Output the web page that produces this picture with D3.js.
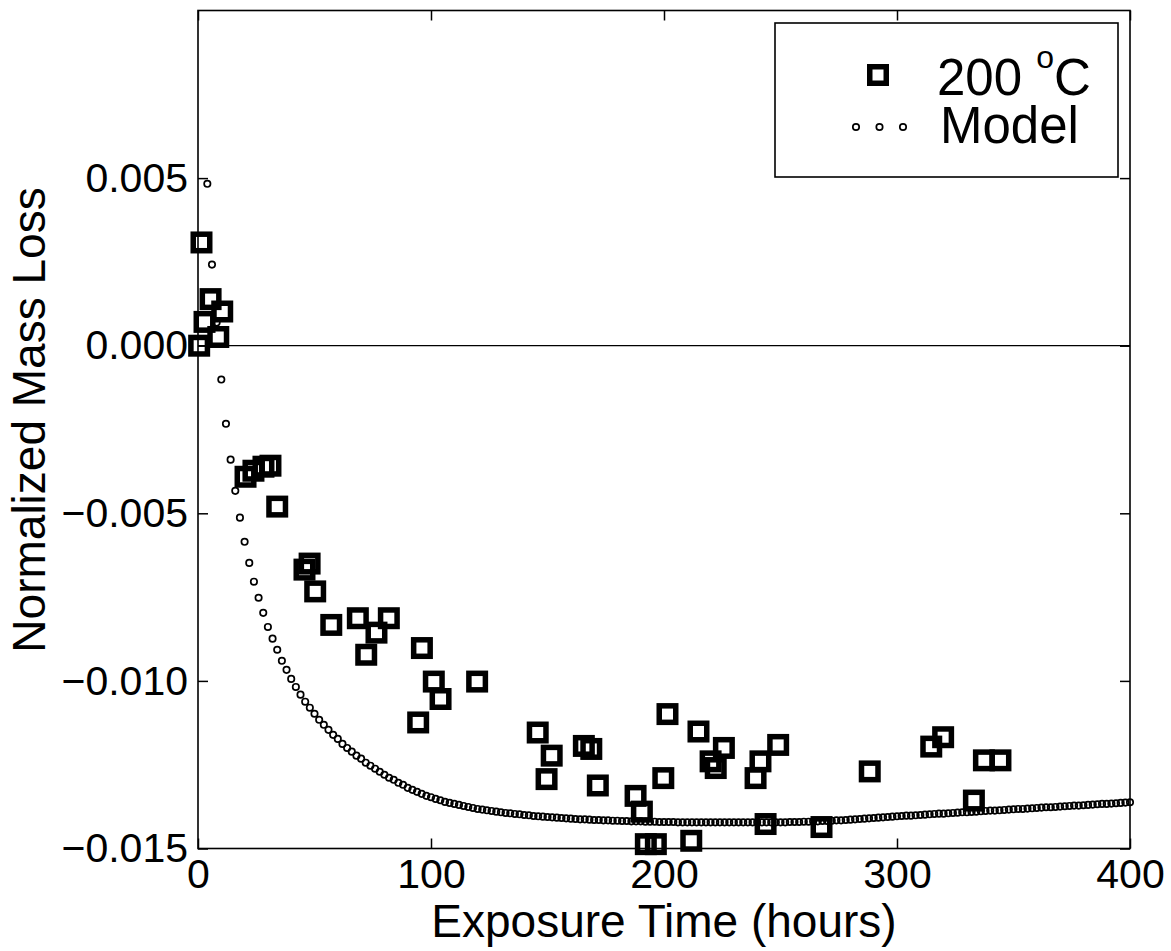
<!DOCTYPE html>
<html>
<head>
<meta charset="utf-8">
<script src="https://cdn.jsdelivr.net/npm/d3@7"></script>
<style>
  body { margin: 0; background: #fff; }
</style>
</head>
<body>
<div id="chart"></div>
<script>
// measured points, 200 C exposure
var hours = [1.5, 0.5, 2.8, 5.4, 8.7, 10.4, 20.4, 23.8, 28.1, 31.1,
  34.0, 45.7, 47.9, 50.3, 57.2, 68.6, 72.2, 76.6, 81.9, 94.5,
  96.1, 101.2, 104.1, 119.8, 145.8, 149.6, 151.8, 165.6, 168.8, 171.6,
  187.8, 190.5, 192.2, 196.5, 199.7, 201.5, 211.7, 214.8, 220.0, 222.2,
  225.7, 239.3, 241.4, 243.6, 249.0, 267.6, 288.3, 314.7, 319.8, 333.0,
  337.3, 344.4];
var massLoss = [0.00308, 0.0000, 0.00071, 0.00139, 0.00026, 0.00102, -0.00391, -0.00373, -0.00361, -0.00358,
  -0.00480, -0.00668, -0.00650, -0.00733, -0.00833, -0.00813, -0.00922, -0.00856, -0.00813, -0.01124,
  -0.00902, -0.01002, -0.01054, -0.01002, -0.01154, -0.01293, -0.01223, -0.01194, -0.01203, -0.01312,
  -0.01343, -0.01390, -0.01487, -0.01487, -0.01290, -0.01099, -0.01477, -0.01151, -0.01240, -0.01260,
  -0.01200, -0.01290, -0.01240, -0.01427, -0.01191, -0.01436, -0.01270, -0.01196, -0.01168, -0.01357,
  -0.01237, -0.01237];

// model curve samples
var modelHours = [4, 6, 8, 10, 12, 14, 16, 18, 20, 22,
  24, 26, 28, 30, 32, 34, 36, 38, 40, 42,
  44, 46, 48, 50, 52, 54, 56, 58, 60, 62,
  64, 66, 68, 70, 72, 74, 76, 78, 80, 82,
  84, 86, 88, 90, 92, 94, 96, 98, 100, 102,
  104, 106, 108, 110, 112, 114, 116, 118, 120, 122,
  124, 126, 128, 130, 132, 134, 136, 138, 140, 142,
  144, 146, 148, 150, 152, 154, 156, 158, 160, 162,
  164, 166, 168, 170, 172, 174, 176, 178, 180, 182,
  184, 186, 188, 190, 192, 194, 196, 198, 200, 202,
  204, 206, 208, 210, 212, 214, 216, 218, 220, 222,
  224, 226, 228, 230, 232, 234, 236, 238, 240, 242,
  244, 246, 248, 250, 252, 254, 256, 258, 260, 262,
  264, 266, 268, 270, 272, 274, 276, 278, 280, 282,
  284, 286, 288, 290, 292, 294, 296, 298, 300, 302,
  304, 306, 308, 310, 312, 314, 316, 318, 320, 322,
  324, 326, 328, 330, 332, 334, 336, 338, 340, 342,
  344, 346, 348, 350, 352, 354, 356, 358, 360, 362,
  364, 366, 368, 370, 372, 374, 376, 378, 380, 382,
  384, 386, 388, 390, 392, 394, 396, 398, 400];
var modelLoss = [0.00483, 0.00242, 0.00069, -0.00101, -0.00233, -0.00340, -0.00433, -0.00513, -0.00585, -0.00648,
  -0.00704, -0.00752, -0.00797, -0.00839, -0.00874, -0.00907, -0.00940, -0.00967, -0.00994, -0.01018,
  -0.01041, -0.01062, -0.01080, -0.01098, -0.01116, -0.01131, -0.01146, -0.01161, -0.01173, -0.01188,
  -0.01200, -0.01211, -0.01223, -0.01232, -0.01244, -0.01253, -0.01262, -0.01271, -0.01280, -0.01289,
  -0.01295, -0.01304, -0.01310, -0.01319, -0.01325, -0.01331, -0.01337, -0.01343, -0.01347, -0.01352,
  -0.01356, -0.01361, -0.01364, -0.01367, -0.01370, -0.01373, -0.01376, -0.01379, -0.01382, -0.01384,
  -0.01386, -0.01388, -0.01390, -0.01392, -0.01394, -0.01395, -0.01397, -0.01398, -0.01400, -0.01401,
  -0.01403, -0.01404, -0.01405, -0.01406, -0.01407, -0.01408, -0.01409, -0.01410, -0.01411, -0.01412,
  -0.01413, -0.01413, -0.01414, -0.01415, -0.01415, -0.01416, -0.01416, -0.01417, -0.01417, -0.01418,
  -0.01418, -0.01419, -0.01419, -0.01419, -0.01420, -0.01420, -0.01420, -0.01421, -0.01421, -0.01421,
  -0.01421, -0.01422, -0.01422, -0.01422, -0.01422, -0.01422, -0.01422, -0.01422, -0.01422, -0.01422,
  -0.01422, -0.01422, -0.01422, -0.01422, -0.01422, -0.01422, -0.01422, -0.01422, -0.01422, -0.01422,
  -0.01422, -0.01422, -0.01422, -0.01422, -0.01422, -0.01421, -0.01421, -0.01421, -0.01420, -0.01420,
  -0.01419, -0.01419, -0.01418, -0.01418, -0.01417, -0.01416, -0.01416, -0.01415, -0.01414, -0.01413,
  -0.01412, -0.01411, -0.01410, -0.01409, -0.01408, -0.01407, -0.01406, -0.01405, -0.01404, -0.01403,
  -0.01402, -0.01402, -0.01401, -0.01400, -0.01399, -0.01398, -0.01397, -0.01396, -0.01396, -0.01395,
  -0.01394, -0.01393, -0.01392, -0.01392, -0.01391, -0.01390, -0.01389, -0.01388, -0.01387, -0.01387,
  -0.01386, -0.01385, -0.01384, -0.01383, -0.01382, -0.01382, -0.01381, -0.01380, -0.01379, -0.01378,
  -0.01377, -0.01377, -0.01376, -0.01375, -0.01374, -0.01373, -0.01372, -0.01372, -0.01371, -0.01370,
  -0.01369, -0.01368, -0.01367, -0.01367, -0.01366, -0.01365, -0.01364, -0.01363, -0.01362];

var xTicks = [0, 100, 200, 300, 400];
var yTicks = [-0.015, -0.010, -0.005, 0, 0.005];
var seriesNames = ["200 ", "Model"];

var width = 1171, height = 951;
var plotLeft = 198, plotRight = 1130, plotTop = 10.5, plotBottom = 848.5;
var font = "'Liberation Sans', Arial, Helvetica, sans-serif";

var x = d3.scaleLinear().domain([0, 400]).range([plotLeft, plotRight]);
var y = d3.scaleLinear().domain([-0.015, 0.010]).range([plotBottom, plotTop]);

var svg = d3.select("#chart")
  .append("svg")
    .attr("width", width)
    .attr("height", height)
    .style("font-family", font);

// zero line
svg.append("line")
  .attr("x1", x(0)).attr("x2", x(400))
  .attr("y1", y(0)).attr("y2", y(0))
  .attr("stroke", "#000")
  .attr("stroke-width", 1.3);

// axes, ticks pointing inward
var fmt = d3.format(".3f");
var gx = svg.append("g")
  .attr("transform", "translate(0," + plotBottom + ")")
  .call(d3.axisBottom(x).tickValues(xTicks).tickSize(-10).tickPadding(10).tickFormat(d3.format("d")));
var gxTop = svg.append("g")
  .attr("transform", "translate(0," + plotTop + ")")
  .call(d3.axisTop(x).tickValues(xTicks).tickSize(-10).tickFormat(""));
var gy = svg.append("g")
  .attr("transform", "translate(" + plotLeft + ",0)")
  .call(d3.axisLeft(y).tickValues(yTicks).tickSize(-10).tickPadding(10).tickFormat(fmt));
var gyRight = svg.append("g")
  .attr("transform", "translate(" + plotRight + ",0)")
  .call(d3.axisRight(y).tickValues(yTicks).tickSize(-10).tickFormat(""));

[gx, gxTop, gy, gyRight].forEach(function(g) {
  g.select(".domain").remove();
  g.selectAll(".tick line").attr("stroke", "#000").attr("stroke-width", 1.5);
  g.attr("font-family", font).attr("font-size", 41);
  g.selectAll("text").attr("fill", "#000");
});

// frame
svg.append("rect")
  .attr("x", plotLeft).attr("y", plotTop)
  .attr("width", plotRight - plotLeft).attr("height", plotBottom - plotTop)
  .attr("fill", "none")
  .attr("stroke", "#000")
  .attr("stroke-width", 1.6);

// axis labels
svg.append("text")
  .attr("x", (plotLeft + plotRight) / 2)
  .attr("y", 937)
  .attr("text-anchor", "middle")
  .attr("font-size", 46)
  .text("Exposure Time (hours)");

svg.append("text")
  .attr("transform", "translate(45," + 420 + ") rotate(-90)")
  .attr("text-anchor", "middle")
  .attr("font-size", 46)
  .text("Normalized Mass Loss");

// model circles
var model = modelHours.map(function(h, i) { return { h: h, v: modelLoss[i] }; });
svg.append("g")
  .selectAll("circle")
  .data(model)
  .join("circle")
    .attr("cx", d => x(d.h))
    .attr("cy", d => y(d.v))
    .attr("r", 3.2)
    .attr("fill", "none")
    .attr("stroke", "#000")
    .attr("stroke-width", 1.7);

// measured squares
var sq = 16.5;
var points = hours.map(function(h, i) { return { h: h, v: massLoss[i] }; });
svg.append("g")
  .selectAll("rect")
  .data(points)
  .join("rect")
    .attr("x", d => x(d.h) - sq / 2)
    .attr("y", d => y(d.v) - sq / 2)
    .attr("width", sq)
    .attr("height", sq)
    .attr("fill", "none")
    .attr("stroke", "#000")
    .attr("stroke-width", 5.5);

// legend
var legend = svg.append("g");
legend.append("rect")
  .attr("x", 775).attr("y", 23)
  .attr("width", 343).attr("height", 154)
  .attr("fill", "#fff")
  .attr("stroke", "#000")
  .attr("stroke-width", 1.6);

legend.append("rect")
  .attr("x", 878 - sq / 2).attr("y", 75 - sq / 2)
  .attr("width", sq).attr("height", sq)
  .attr("fill", "none")
  .attr("stroke", "#000")
  .attr("stroke-width", 5.5);

legend.selectAll("circle")
  .data([856, 879.5, 903])
  .join("circle")
    .attr("cx", d => d)
    .attr("cy", 127)
    .attr("r", 3.2)
    .attr("fill", "none")
    .attr("stroke", "#000")
    .attr("stroke-width", 1.7);

var t1 = legend.append("text")
  .attr("x", 937).attr("y", 95)
  .attr("font-size", 51);
t1.append("tspan").text(seriesNames[0]);
t1.append("tspan").attr("font-size", 32).attr("dy", -27).text("o");
t1.append("tspan").attr("dy", 27).text("C");

legend.append("text")
  .attr("x", 940).attr("y", 143)
  .attr("font-size", 51)
  .text(seriesNames[1]);
</script>
</body>
</html>
